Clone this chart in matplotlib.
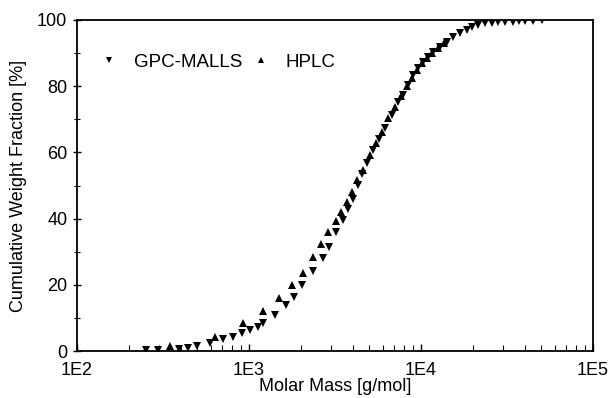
import matplotlib
matplotlib.use("Agg")
import matplotlib.pyplot as plt
from matplotlib.ticker import LogLocator, NullFormatter, MultipleLocator

plt.rcParams['font.family'] = ['Liberation Sans', 'DejaVu Sans']

gpc_mass = [252, 296, 392, 442, 499, 593, 706, 807, 911, 1013,
            1128, 1206, 1417, 1641, 1826, 2033, 2356, 2693, 2918, 3204,
            3520, 3764, 4024, 4302, 4539, 4853, 5259, 5699, 6175, 6783,
            7350, 7859, 8403, 8984, 9607, 10270, 10980, 11740, 12900, 14170,
            15350, 16850, 18510, 19790, 21450, 23560, 25870, 28030, 30790, 34260,
            37140, 40240, 44790, 50520]
gpc_frac = [0.2, 0.3, 0.6, 0.9, 1.6, 2.5, 3.5, 4.3, 5.3, 6.3,
            7.3, 8.5, 10.9, 13.9, 16.4, 19.9, 24.2, 28.0, 31.3, 35.9,
            39.6, 42.8, 45.8, 50.2, 53.5, 56.7, 60.7, 64.0, 67.3, 71.3,
            75.3, 77.3, 80.4, 83.4, 85.5, 87.3, 88.8, 90.3, 91.8, 93.4,
            94.9, 96.1, 97.0, 97.9, 98.5, 99.1, 99.2, 99.3, 99.3, 99.5,
            99.6, 99.7, 99.8, 100.0]

hplc_mass = [347, 635, 923, 1206, 1494, 1778, 2061, 2356, 2622, 2880,
             3184, 3427, 3713, 3970, 4245, 4600, 5052, 5475, 5933, 6429,
             7060, 7650, 8290, 8866, 9478, 10130, 10840, 11590, 12560, 13610]
hplc_frac = [1.6, 4.3, 8.5, 12.1, 16.1, 19.9, 23.7, 28.5, 32.3, 35.9,
             39.4, 42.1, 45.1, 48.1, 51.7, 54.7, 59.2, 62.7, 66.3, 70.3,
             73.8, 77.0, 80.0, 82.5, 85.0, 87.0, 88.5, 90.0, 91.5, 93.0]

x_ticks = [1e2, 1e3, 1e4, 1e5]
x_labels = ['1E2', '1E3', '1E4', '1E5']
y_ticks = [0, 20, 40, 60, 80, 100]

fig = plt.figure(figsize=(6.11, 3.98), dpi=100)
ax = fig.add_axes([77/611, 1-351/398, (593-77)/611, (351-20)/398])

ax.plot(gpc_mass, gpc_frac, linestyle='none', marker='v', ms=5.6, color='black',
        markeredgewidth=0, label='GPC-MALLS')
ax.plot(hplc_mass, hplc_frac, linestyle='none', marker='^', ms=5.6, color='black',
        markeredgewidth=0, label='HPLC')

ax.set_xscale('log')
ax.set_xlim(1e2, 1e5)
ax.set_ylim(0, 100)
ax.set_xticks(x_ticks)
ax.set_xticklabels(x_labels)
ax.xaxis.set_minor_locator(LogLocator(base=10, subs=range(2, 10)))
ax.xaxis.set_minor_formatter(NullFormatter())
ax.set_yticks(y_ticks)
ax.yaxis.set_minor_locator(MultipleLocator(10))

ax.tick_params(axis='x', which='major', direction='in', length=5, width=1, labelsize=13, pad=8)
ax.tick_params(axis='x', which='minor', direction='in', length=4, width=0.8)
ax.tick_params(axis='y', which='major', direction='inout', length=6, width=1, labelsize=13, pad=4)
ax.tick_params(axis='y', which='minor', direction='inout', length=5, width=0.8)

for s in ax.spines.values():
    s.set_linewidth(1.3)

ax.set_xlabel('Molar Mass [g/mol]', fontsize=13, labelpad=-1)
ax.set_ylabel('Cumulative Weight Fraction [%]', fontsize=13, labelpad=7)

ax.legend(loc='center left', bbox_to_anchor=(0.03, 0.873), ncol=2, frameon=False,
          fontsize=13.5, markerscale=0.75, handlelength=0.8, handletextpad=0.9,
          columnspacing=0.6, borderpad=0)

fig.savefig('out.png', dpi=100)
